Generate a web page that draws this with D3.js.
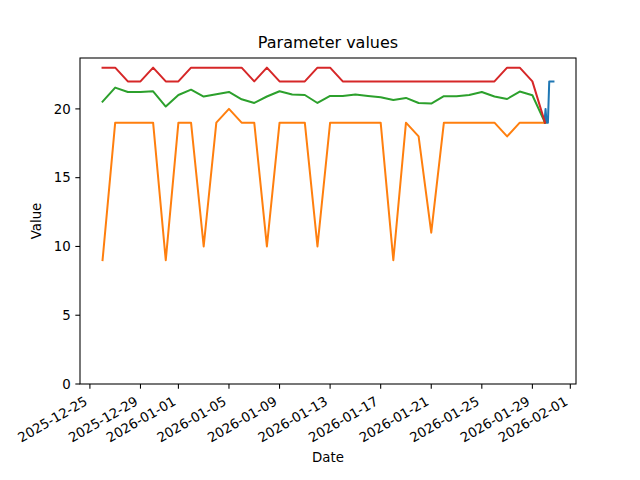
<!DOCTYPE html>
<html><head><meta charset="utf-8">
<script src="https://cdn.jsdelivr.net/npm/d3@7"></script>
<style>body{margin:0;background:#fff}svg{display:block}text{font-family:"DejaVu Sans",sans-serif;fill:#000}</style>
</head><body>
<svg id="c" width="640" height="480"></svg>
<script>
const dates = ["2025-12-26","2025-12-27","2025-12-28","2025-12-29","2025-12-30","2025-12-31",
"2026-01-01","2026-01-02","2026-01-03","2026-01-04","2026-01-05","2026-01-06","2026-01-07",
"2026-01-08","2026-01-09","2026-01-10","2026-01-11","2026-01-12","2026-01-13","2026-01-14",
"2026-01-15","2026-01-16","2026-01-17","2026-01-18","2026-01-19","2026-01-20","2026-01-21",
"2026-01-22","2026-01-23","2026-01-24","2026-01-25","2026-01-26","2026-01-27","2026-01-28",
"2026-01-29","2026-01-30"];
const orangeVals = [9,19,19,19,19,9,19,19,10,19,20,19,19,10,19,19,19,10,19,19,19,19,19,9,19,18,11,19,19,19,19,19,18,19,19,19];
const greenVals = [20.53,21.55,21.23,21.23,21.28,20.17,21.01,21.4,20.9,21.06,21.23,20.7,20.43,20.9,21.28,21.04,21.01,20.43,20.94,20.94,21.04,20.94,20.85,20.65,20.8,20.43,20.39,20.92,20.92,21.01,21.23,20.9,20.72,21.26,20.99,19];
const redVals = [23,23,22,22,23,22,22,23,23,23,23,23,22,23,22,22,22,23,23,22,22,22,22,22,22,22,22,22,22,22,22,22,23,23,22,19];
const blueTimes = ["2026-01-29T23:00","2026-01-30T01:00","2026-01-30T03:00","2026-01-30T05:30","2026-01-30T08:00","2026-01-30T16:00"];
const blueVals = [19,20,19,19,22,22];
const xTickLabels = ["2025-12-25","2025-12-29","2026-01-01","2026-01-05","2026-01-09","2026-01-13","2026-01-17","2026-01-21","2026-01-25","2026-01-29","2026-02-01"];
const yTicks = [0,5,10,15,20];

const parse = s => new Date(s.length > 10 ? s : s + "T00:00");
const svg = d3.select("#c");
const L = 80, R = 576, T = 58, B = 384;

const allT = dates.map(parse).concat(blueTimes.map(parse));
const [t0, t1] = d3.extent(allT);
const pad = (t1 - t0) * 0.05;
const x = d3.scaleTime().domain([new Date(+t0 - pad), new Date(+t1 + pad)]).range([L, R]);
const y = d3.scaleLinear().domain([0, 23 + 0.05 * 14]).range([B, T]);

const line = d3.line().x(d => x(d[0])).y(d => y(d[1]));
const series = [
  {c:"#1f77b4", d: blueTimes.map((t,i)=>[parse(t), blueVals[i]])},
  {c:"#ff7f0e", d: dates.map((t,i)=>[parse(t), orangeVals[i]])},
  {c:"#2ca02c", d: dates.map((t,i)=>[parse(t), greenVals[i]])},
  {c:"#d62728", d: dates.map((t,i)=>[parse(t), redVals[i]])}
];
series.forEach(s => svg.append("path").attr("d", line(s.d)).attr("fill","none")
  .attr("stroke", s.c).attr("stroke-width", 2).attr("stroke-linejoin","round").attr("stroke-linecap","square"));

// frame
svg.append("rect").attr("x", L).attr("y", T).attr("width", R-L).attr("height", B-T)
  .attr("fill","none").attr("stroke","#000").attr("stroke-width",1.07);

// x axis
const xa = svg.append("g");
xTickLabels.forEach(s => {
  const px = x(parse(s));
  xa.append("line").attr("x1",px).attr("x2",px).attr("y1",B).attr("y2",B+4.67).attr("stroke","#000").attr("stroke-width",1.07);
  xa.append("text").attr("transform",`translate(${px-1.5},${B+20}) rotate(-30)`)
    .attr("text-anchor","end").attr("font-size","13.33px").text(s);
});
// y axis
const ya = svg.append("g");
yTicks.forEach(v => {
  const py = y(v);
  ya.append("line").attr("x1",L-4.67).attr("x2",L).attr("y1",py).attr("y2",py).attr("stroke","#000").attr("stroke-width",1.07);
  ya.append("text").attr("x",L-9.3).attr("y",py).attr("dy","0.35em").attr("text-anchor","end").attr("font-size","13.33px").text(v);
});

svg.append("text").attr("x",(L+R)/2).attr("y",48.3).attr("text-anchor","middle").attr("font-size","16px").text("Parameter values");
svg.append("text").attr("x",(L+R)/2).attr("y",461.5).attr("text-anchor","middle").attr("font-size","13.33px").text("Date");
svg.append("text").attr("transform",`translate(41,${(T+B)/2}) rotate(-90)`).attr("text-anchor","middle").attr("font-size","13.33px").text("Value");
</script>
</body></html>
